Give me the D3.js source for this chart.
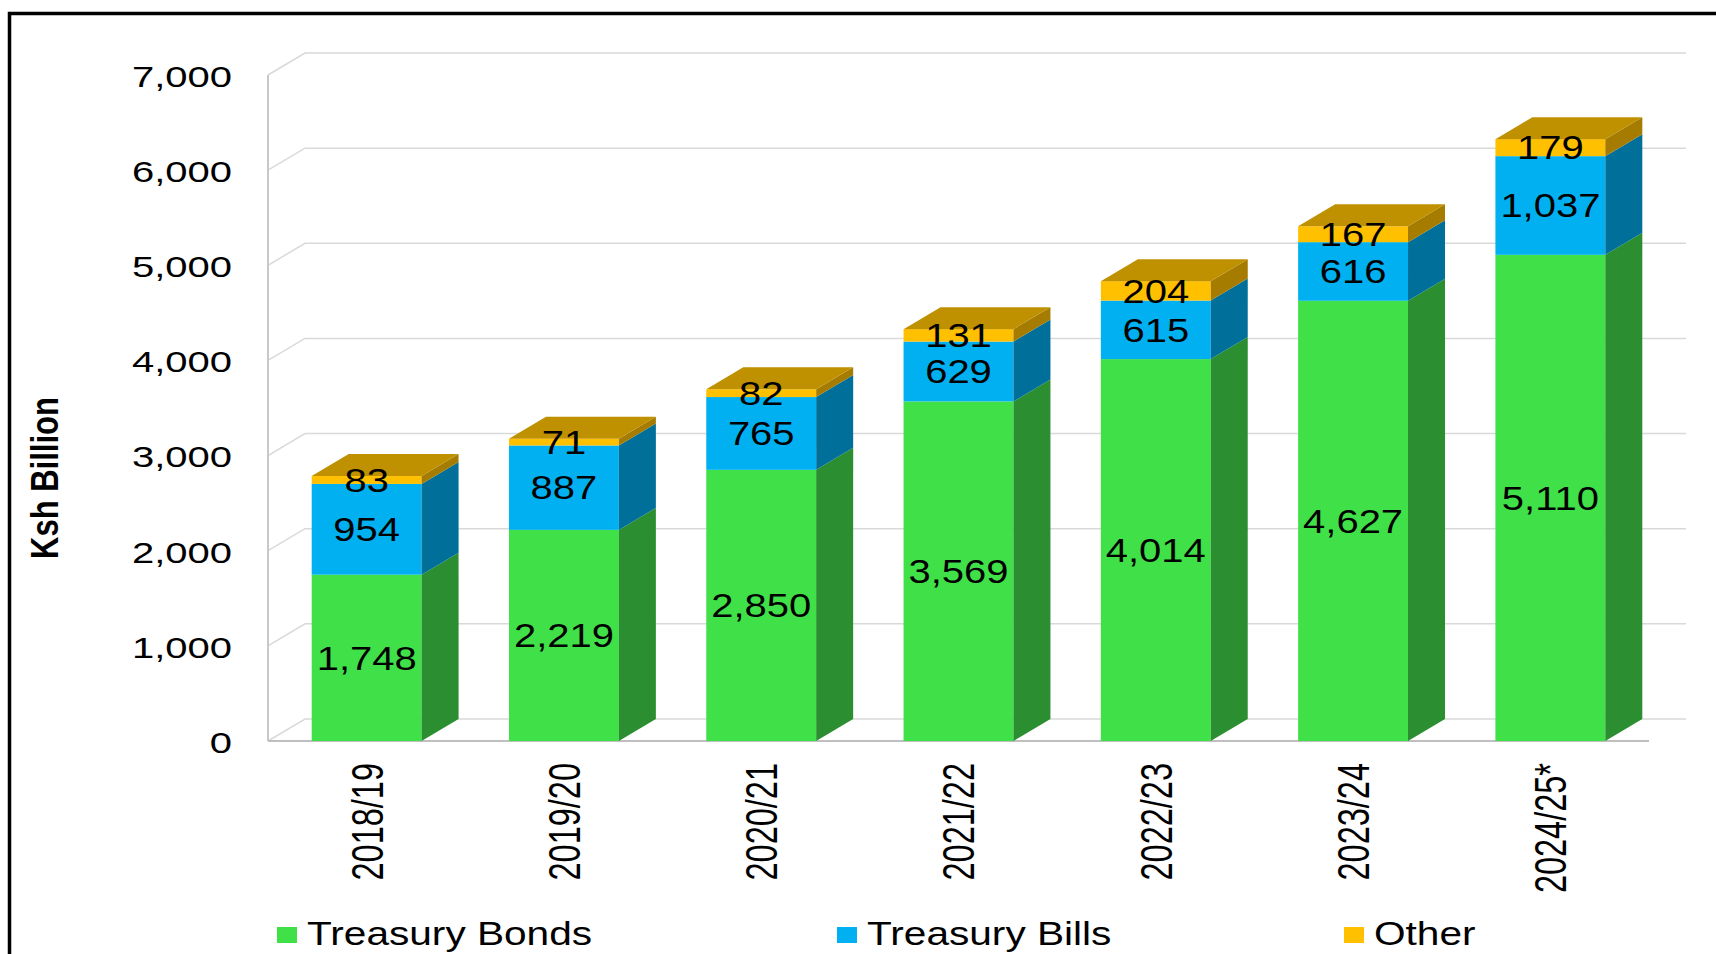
<!DOCTYPE html>
<html>
<head>
<meta charset="utf-8">
<script src="https://cdn.jsdelivr.net/npm/d3@7"></script>
<style>
  html, body { margin: 0; padding: 0; background: #fff; }
  svg { display: block; font-family: "Liberation Sans", Arial, sans-serif; }
</style>
</head>
<body>
<svg id="chart"></svg>
<script>
// Data (Ksh Billion)
const categories = ["2018/19", "2019/20", "2020/21", "2021/22", "2022/23", "2023/24", "2024/25*"];
const bonds = [1748, 2219, 2850, 3569, 4014, 4627, 5110];
const bills = [954, 887, 765, 629, 615, 616, 1037];
const other = [83, 71, 82, 131, 204, 167, 179];
const yTicks = [0, 1000, 2000, 3000, 4000, 5000, 6000, 7000];
const seriesNames = ["Treasury Bonds", "Treasury Bills", "Other"];

function drawChart() {
    const W = 1716, H = 954;
    const svg = d3.select("#chart").attr("width", W).attr("height", H);

    // 3D depth offset of walls and bars
    const DX = 37, DY = -22;

    const colors = [
        {front: "#40E048", side: "#2B8E30"},
        {front: "#00B0F0", side: "#00709A"},
        {front: "#FFC000", side: "#A67C00", top: "#BF9000"}
    ];

    const x = d3.scaleBand()
        .domain(categories)
        .range([268, 1649])
        .paddingInner(0.443)
        .paddingOuter(0.2215);

    const y = d3.scaleLinear()
        .domain([0, 7000])
        .range([741, 75]);

    // Outer frame
    svg.append("rect")
        .attr("x", 9.5).attr("y", 13.5)
        .attr("width", W + 20).attr("height", H + 20)
        .attr("fill", "none")
        .attr("stroke", "#000")
        .attr("stroke-width", 3.5);

    // Gridlines on left wall and back wall
    const x0 = x.range()[0], x1 = x.range()[1];
    yTicks.forEach(t => {
        svg.append("polyline")
            .attr("points", `${x0},${y(t)} ${x0 + DX},${y(t) + DY} ${x1 + DX},${y(t) + DY}`)
            .attr("fill", "none")
            .attr("stroke", "#D9D9D9")
            .attr("stroke-width", 1.5);
    });

    // Front vertical axis and floor front edge
    svg.append("line")
        .attr("x1", x0).attr("x2", x0)
        .attr("y1", y(7000)).attr("y2", y(0))
        .attr("stroke", "#C8C8C8").attr("stroke-width", 2);
    svg.append("line")
        .attr("x1", x0).attr("x2", x1)
        .attr("y1", y(0)).attr("y2", y(0))
        .attr("stroke", "#BFBFBF").attr("stroke-width", 2);

    // Stack the series
    const table = categories.map((c, i) => ({cat: c, bonds: bonds[i], bills: bills[i], other: other[i]}));
    const stacked = d3.stack().keys(["bonds", "bills", "other"])(table);

    const bars = svg.append("g");
    categories.forEach((cat, i) => {
        const xl = x(cat), xr = x(cat) + x.bandwidth();
        stacked.forEach((layer, k) => {
            const yb = y(layer[i][0]), yt = y(layer[i][1]);
            // front face
            bars.append("rect")
                .attr("x", xl).attr("y", yt)
                .attr("width", xr - xl).attr("height", yb - yt)
                .attr("fill", colors[k].front);
            // side face
            bars.append("polygon")
                .attr("points", `${xr},${yb} ${xr + DX},${yb + DY} ${xr + DX},${yt + DY} ${xr},${yt}`)
                .attr("fill", colors[k].side);
        });
        // top face
        const top = stacked[stacked.length - 1];
        const yt = y(top[i][1]);
        bars.append("polygon")
            .attr("points", `${xl},${yt} ${xl + DX},${yt + DY} ${xr + DX},${yt + DY} ${xr},${yt}`)
            .attr("fill", colors[2].top);
    });

    // Data labels, centred on each segment's front face
    const fmt = d3.format(",");
    const labels = svg.append("g");
    stacked.forEach(layer => {
        layer.forEach((d, i) => {
            const cx = x(categories[i]) + x.bandwidth() / 2;
            const cy = (y(d[0]) + y(d[1])) / 2;
            labels.append("text")
                .attr("transform", `translate(${cx},${cy}) scale(1.23,1)`)
                .attr("text-anchor", "middle")
                .attr("dy", "0.36em")
                .style("font-size", "32.5px")
                .attr("fill", "#000")
                .text(fmt(d[1] - d[0]));
        });
    });

    // Y tick labels
    yTicks.forEach(t => {
        svg.append("text")
            .attr("transform", `translate(232,${y(t) + 1}) scale(1.32,1)`)
            .attr("text-anchor", "end")
            .attr("dy", "0.36em")
            .style("font-size", "30.3px")
            .attr("fill", "#000")
            .text(fmt(t));
    });

    // X category labels (rotated)
    categories.forEach(cat => {
        const cx = x(cat) + x.bandwidth() / 2;
        svg.append("text")
            .attr("transform", `translate(${cx},763) scale(1.36,1) rotate(-90)`)
            .attr("text-anchor", "end")
            .attr("dy", "0.36em")
            .style("font-size", "32.5px")
            .attr("fill", "#000")
            .text(cat);
    });

    // Y axis title
    svg.append("text")
        .attr("transform", `translate(44,478) scale(1.28,1) rotate(-90)`)
        .attr("text-anchor", "middle")
        .attr("dy", "0.36em")
        .style("font-size", "31px")
        .style("font-weight", "bold")
        .text("Ksh Billion");

    // Legend
    const legendX = [277, 837, 1344];
    seriesNames.forEach((name, k) => {
        svg.append("rect")
            .attr("x", legendX[k]).attr("y", 927)
            .attr("width", 20).attr("height", 16)
            .attr("fill", colors[k].front);
        svg.append("text")
            .attr("transform", `translate(${legendX[k] + 30},933.5) scale(1.25,1)`)
            .attr("dy", "0.36em")
            .style("font-size", "32.5px")
            .attr("fill", "#000")
            .text(name);
    });
}

drawChart();
</script>
</body>
</html>
